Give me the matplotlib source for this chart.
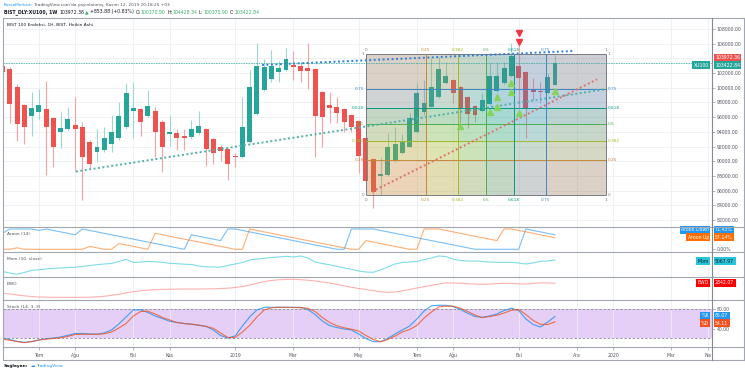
import matplotlib
matplotlib.use("Agg")
import matplotlib.pyplot as plt
import matplotlib.transforms as mtransforms
from matplotlib.lines import Line2D
from matplotlib.patches import Rectangle
import numpy as np

plt.rcParams["font.family"] = ["DejaVu Sans"]

# weekly Heikin Ashi candles, bar 0 = 2018-05-28 ... bar 76 = 2019-11-11
opens = np.array([
    103003, 102513, 100144, 97652, 96155, 96699, 97108, 95882, 93935, 94344,
    94929, 94657, 92655, 91212, 91525, 92342, 93119, 94616, 96876, 97067,
    96195, 96835, 95379, 93704, 93800, 93432, 93255, 93800, 94344, 92982,
    91975, 91621, 90668, 90532, 92574, 96427, 99694, 101233, 102104, 102417,
    103098, 102962, 102649, 102513, 99381, 97652, 97421, 97067, 96250, 95474,
    93119, 90259, 88026, 88122, 90069, 91158, 91975, 94017, 96740, 97421,
    98701, 100607, 101056, 100103, 98701, 97516, 96876, 97748, 99599, 100607,
    101601, 102962, 102186, 99694, 99463, 99245, 100370.90])
highs = np.array([
    103234, 102826, 100511, 97788, 99463, 99831, 100920, 96018, 96740, 97421,
    98782, 95379, 92887, 94344, 94698, 96291, 98102, 100688, 100743, 97244,
    99694, 97421, 95610, 96291, 94344, 94344, 95610, 96835, 94521, 93159,
    92206, 91798, 91117, 98701, 102417, 106053, 103874, 105140, 103643, 105372,
    105004, 103548, 106053, 102690, 99558, 99463, 98701, 97244, 96427, 95610,
    93295, 90436, 90532, 93800, 94698, 93704, 96522, 100607, 101056, 104010,
    104228, 103548, 101192, 100239, 98878, 97652, 99245, 103411, 103411, 103507,
    106053, 105821, 102281, 101287, 100824, 102050, 104428.34])
lows = np.array([
    101873, 95161, 92792, 92342, 93432, 95746, 88163, 89211, 91757, 94112,
    88666, 84677, 89034, 89933, 91253, 91253, 92887, 94385, 93200, 93432,
    96018, 90613, 88571, 92070, 91525, 91525, 93023, 93568, 89347, 89619,
    90069, 87441, 89252, 90436, 92479, 96291, 99558, 100824, 100824, 102281,
    101056, 100743, 99790, 90613, 91893, 95161, 95161, 94017, 94017, 88353,
    87237, 83588, 85399, 87986, 89892, 91049, 91866, 93908, 96291, 97312,
    98605, 100511, 97884, 94480, 94480, 95379, 96767, 97652, 99490, 100511,
    101464, 97203, 93119, 98333, 97884, 99150, 100370.90])
closes = np.array([
    102104, 97748, 95106, 94657, 97203, 97652, 94616, 91975, 94562, 95705,
    94385, 90613, 89619, 91975, 93119, 93976, 96114, 99245, 97244, 95338,
    97475, 93935, 91975, 93976, 93119, 93200, 94385, 94834, 91621, 91158,
    91389, 89579, 90572, 94616, 100144, 103003, 102867, 103003, 102649, 103915,
    102785, 102322, 102322, 96155, 95978, 97285, 96604, 95379, 94616, 90709,
    87346, 85848, 88258, 91975, 92302, 92655, 95923, 99327, 97884, 100144,
    102513, 101601, 99245, 97203, 96427, 96291, 98333, 101601, 101601, 102690,
    104324, 101287, 97067, 99381, 99381, 101424, 103422.84])

aroon_up = [0, 0, 7.14, 0, 0, 0, 0, 0, 0, 0, 0, 0, 14.29, 7.14, 0, 0, 28.57, 21.43,
            14.29, 7.14, 0, 78.57, 71.43, 64.29, 57.14, 50, 42.86, 35.71, 28.57, 21.43,
            14.29, 7.14, 0, 0, 100, 92.86, 85.71, 78.57, 71.43, 64.29, 57.14, 50, 42.86,
            35.71, 28.57, 21.43, 14.29, 7.14, 0, 0, 42.86, 35.71, 28.57, 21.43, 14.29,
            7.14, 0, 0, 100, 100, 100, 92.86, 85.71, 78.57, 71.43, 64.29, 57.14, 50,
            42.86, 100, 100, 92.86, 85.71, 78.57, 71.43, 64.29, 57.14]
aroon_down = [78.57, 100, 100, 100, 100, 92.86, 100, 92.86, 85.71, 78.57, 71.43,
              100, 92.86, 85.71, 78.57, 71.43, 64.29, 57.14, 50, 42.86, 35.71, 28.57,
              21.43, 14.29, 7.14, 0, 71.43, 64.29, 57.14, 50, 42.86, 100, 100, 92.86,
              85.71, 78.57, 71.43, 64.29, 57.14, 50, 42.86, 35.71, 28.57, 21.43, 14.29,
              7.14, 0, 0, 100, 100, 100, 100, 92.86, 85.71, 78.57, 71.43, 64.29, 57.14,
              50, 42.86, 35.71, 28.57, 21.43, 14.29, 7.14, 0, 0, 0, 0, 0, 0, 0, 100,
              92.86, 85.71, 78.57, 71.43]
mom = [-15069, -17695, -19971, -16820, -12967, -12092, -10691, -9465, -8940, -8064,
       -7539, -6314, -4563, -3162, -1936, -1061, 2442, 6294, 690, 1566,
       2442, 2091, 1041, -710, -1411, -2286, -2812, -5438, -6839, -7189,
       -7539, -4563, -1936, 690, 5068, 6819, 8045, 9446, 10321, 11547,
       10321, 12072, 8570, 1566, -1061, -3337, -5963, -8940, -11216, -14193,
       -15944, -16469, -12442, -7189, -1936, 690, 1566, 2442, 5944, 8570,
       12072, 11197, 6294, 4193, 3317, 3317, 2442, 1566, 1041, 1041,
       1041, -185, -1936, -185, 2792, 3317, 5067.97]
ewo = [-10454, -11528, -12871, -13946, -14886, -15557, -15826, -15960, -15960, -15960,
       -15960, -15960, -15826, -15423, -14617, -13274, -11931, -9917, -8439, -7231,
       -6290, -5753, -5350, -5082, -4947, -4813, -4813, -4813, -4679, -4545,
       -4142, -3739, -2799, -1590, 559, 2842, 5125, 6602, 7543, 8080,
       8214, 7677, 7005, 5931, 4588, 3245, 1499, -516, -2396, -4142,
       -5485, -7096, -8439, -9245, -8842, -7231, -5485, -3470, -1724, 156,
       1902, 3379, 3245, 2842, 2305, 1768, 1499, 1768, 2439, 2842,
       2708, 2170, 1902, 2573, 3514, 3245, 2842.07]
stoch_k = [20.6, 17.5, 13.8, 11.7, 13.4, 16.5, 19, 20.6, 22.7, 26.2,
           29.9, 29.9, 28.9, 28.5, 31, 37.2, 49.6, 64.1, 78.6, 79,
           73.4, 66.1, 61, 55.2, 52.7, 50.6, 49.2, 46.9, 44.8, 37.2,
           25.8, 20.6, 24.8, 45.4, 64.1, 78.6, 84.1, 84.1, 84.1, 84.1,
           84.1, 84.1, 79.6, 69.2, 55.8, 46.3, 42.3, 39.2, 37.2, 28.9,
           19.6, 13, 13, 19.6, 28.9, 37.2, 45.4, 59.9, 76.5, 87.2,
           88.3, 88.3, 85.8, 79.6, 71.7, 65.1, 63.4, 66.1, 70.3, 77.5,
           82.1, 77.5, 59.9, 48.5, 43.4, 53.7, 65.07]
stoch_d = [18.5, 15.8, 13.4, 10.9, 13, 16.5, 18.1, 19.6, 21, 24.1,
           27.9, 28.3, 28.3, 28.3, 29.3, 33, 41.3, 50.6, 66.1, 75.4,
           76.1, 70.3, 63, 57.9, 52.5, 50.6, 49, 47.5, 44.4, 40.7,
           31, 21.7, 21.7, 33, 46.5, 64.1, 78.6, 83.1, 84.1, 84.1,
           83.7, 83.1, 82.1, 75.4, 63, 52.7, 45.9, 41.7, 38.8, 35.1,
           25.8, 17.5, 13, 17.5, 24.8, 33, 38.2, 46.5, 62, 74.4,
           84.8, 86.4, 86.2, 82.1, 75.4, 68.2, 62.6, 65.1, 67.6, 72.3,
           77.9, 79.6, 69.2, 56.8, 49, 48.5, 54.11]

time_ticks = [5, 10, 18, 23, 32, 40, 49, 57, 62, 71, 79, 84, 92, 97]
time_labels = ["Tem", "Ağu", "Eki", "Kas", "2019", "Mar", "May", "Tem", "Ağu", "Eki",
               "Ara", "2020", "Mar", "Nis"]
# 104000 sits under the last-price tags, so it is not printed
price_ticks = [82000, 84000, 86000, 88000, 90000, 92000, 94000, 96000, 98000,
               100000, 102000, 106000, 108000]
price_grid = list(range(82000, 108001, 2000))

# drawings on the chart
fib_bars = (50, 83)
fib_prices = (85399, 104596)
fib_levels = [0, 0.25, 0.382, 0.5, 0.618, 0.75, 1]
fib_labels = ["0", "0.25", "0.382", "0.5", "0.618", "0.75", "1"]
fib_colors = ["#787b86", "#c8893a", "#a2b82a", "#4caf50", "#089981", "#3d85c6", "#787b86"]
trend_lines = [
    ((10.1, 88598), (82.9, 99790), "#4fb0a8"),
    ((35.7, 103098), (78.5, 105004), "#2f7fe0"),
    ((50.8, 85848), (81.8, 101151), "#e07070"),
]
buy_marks = [(63, 94793), (67, 96740), (68, 97421), (68, 98701), (70, 99381),
             (70, 100607), (71, 96631), (76, 99558)]
sell_marks = [(71, 106189), (71, 107496)]

W, H = 745, 375
GRID = "#edf0f4"
SEP = "#a3a6ae"
TXT = "#50535e"
fig = plt.figure(figsize=(W / 100, H / 100), dpi=100)
fig.patch.set_facecolor("white")


def px_axes(x0, y0, x1, y1):
    return fig.add_axes([x0 / W, 1 - y1 / H, (x1 - x0) / W, (y1 - y0) / H])


LEFT, RIGHT = 3, 712
ax = px_axes(LEFT, 18, RIGHT, 226.7)
ax_ar = px_axes(LEFT, 226.7, RIGHT, 252.3)
ax_mom = px_axes(LEFT, 252.3, RIGHT, 277.3)
ax_ewo = px_axes(LEFT, 277.3, RIGHT, 300)
ax_st = px_axes(LEFT, 300, RIGHT, 347)

for a in (ax, ax_ar, ax_mom, ax_ewo, ax_st):
    a.set_xlim(0.07, 97.6)
    for s in a.spines.values():
        s.set_visible(False)
    a.set_axisbelow(True)
    a.set_xticks(time_ticks)
    a.tick_params(axis="x", length=0, labelbottom=False)
    a.grid(axis="x", color=GRID, lw=0.6)
    a.yaxis.tick_right()
    a.tick_params(axis="y", length=2, width=0.5, colors="#9598a1", labelcolor=TXT,
                  labelsize=3.3, pad=1.5)

# candles
bars = np.arange(len(closes))
up = closes >= opens
body_col = np.where(up, "#26a69a", "#ef5350")
wick_col = np.where(up, "#9fd7d0", "#f5a3a2")
ax.vlines(bars, lows, highs, colors=wick_col, lw=0.8, zorder=2)
body_lo = np.minimum(opens, closes)
body_h = np.maximum(np.abs(closes - opens), 150)
ax.bar(bars, body_h, bottom=body_lo, width=0.68, color=body_col, lw=0, zorder=3)

ax.set_ylim(81083, 109497)
ax.set_yticks(price_ticks)
ax.set_yticklabels([f"{v:.2f}" for v in price_ticks])
ax.hlines(price_grid, 0.07, 97.6, color=GRID, lw=0.6, zorder=0.5)

# fib grid
x0, x1 = fib_bars
p0, p1 = fib_prices
for i in range(len(fib_levels) - 1):
    r0, r1 = fib_levels[i], fib_levels[i + 1]
    c = fib_colors[i + 1]
    ax.add_patch(Rectangle((x0, p0 + r0 * (p1 - p0)), x1 - x0, (r1 - r0) * (p1 - p0),
                           fc=c, alpha=0.2, ec="none", zorder=4))
    ax.add_patch(Rectangle((x0 + r0 * (x1 - x0), p0), (r1 - r0) * (x1 - x0), p1 - p0,
                           fc=c, alpha=0.2, ec="none", zorder=4))
for r, lab, c in zip(fib_levels, fib_labels, fib_colors):
    yp = p0 + r * (p1 - p0)
    xb = x0 + r * (x1 - x0)
    ax.hlines(yp, x0, x1, color=c, lw=0.7, zorder=5)
    ax.vlines(xb, p0, p1, color=c, lw=0.7, zorder=5)
    kw = dict(fontsize=3.1, color=c, zorder=7, textcoords="offset pixels")
    ax.annotate(lab, (x0, yp), xytext=(-2, 0), ha="right", va="center", **kw)
    ax.annotate(lab, (x1, yp), xytext=(2, 0), ha="left", va="center", **kw)
    ax.annotate(lab, (xb, p1), xytext=(0, 4), ha="center", va="center", **kw)
    ax.annotate(lab, (xb, p0), xytext=(0, -5), ha="center", va="center", **kw)

for (ta, pa), (tb, pb), c in trend_lines:
    ax.plot([ta, tb], [pa, pb], color=c, lw=1.4, ls=(0, (1.0, 1.3)), zorder=6)

ax.axhline(closes[-1], color="#26a69a", lw=0.6, ls=(0, (2, 1)), alpha=0.8, zorder=6)

ax.plot([b for b, _ in buy_marks], [p for _, p in buy_marks], ls="none", marker="^",
        ms=4.2, color="#86d35c", zorder=8)
ax.plot([b for b, _ in sell_marks], [p for _, p in sell_marks], ls="none", marker="v",
        ms=4.2, color="#f23645", zorder=8)

ax.text(4 / 709, 1 - 7 / 208.7, "BIST 100 Endeksi, 1H, BIST, Heikin Ashi",
        transform=ax.transAxes, fontsize=3.2, color="#131722", va="center")

# Aroon
ax_ar.plot(bars, aroon_down, color="#2196f3", lw=0.8, alpha=0.6)
ax_ar.plot(bars, aroon_up, color="#ff6d00", lw=0.8, alpha=0.55)
ax_ar.set_ylim(-14.8, 111.3)
ax_ar.set_yticks([0])
ax_ar.set_yticklabels(["0.00%"])

# Momentum
ax_mom.plot(bars, mom, color="#26c6da", lw=0.8, alpha=0.6)
ax_mom.set_ylim(-25224, 18551)
ax_mom.set_yticks([])

# EWO
ax_ewo.plot(bars, ewo, color="#ff5252", lw=0.8, alpha=0.45)
ax_ewo.set_ylim(-19586, 10900)
ax_ewo.set_yticks([])

# Stochastic
ax_st.axhspan(20, 80, color="#e6cff7", zorder=0.2, lw=0)
for lvl in (80, 20):
    ax_st.axhline(lvl, color="#8a8d96", lw=0.6, ls=(0, (3, 2)), zorder=0.6)
ax_st.plot(bars, stoch_k, color="#2196f3", lw=0.8, alpha=0.85)
ax_st.plot(bars, stoch_d, color="#f4511e", lw=0.8, alpha=0.8)
ax_st.set_ylim(2.0, 99.2)
ax_st.set_yticks([80, 40])
ax_st.set_yticklabels(["80.00", "40.00"])
ax_st.set_xticklabels(time_labels)
ax_st.tick_params(axis="x", length=2, width=0.5, color="#9598a1", labelbottom=True,
                  labelsize=3.3, labelcolor=TXT, pad=2)

pane_titles = [(ax_ar, "Aroon (14)"), (ax_mom, "Mom (10, close)"), (ax_ewo, "EWO"),
               (ax_st, "Stoch (14, 3, 3)")]
for a, t in pane_titles:
    a.annotate(t, (0, 1), xycoords="axes fraction", xytext=(4, -7),
               textcoords="offset pixels", fontsize=3.2, color=TXT, va="center")


def tag(a, value, text, color, dy=0.0, name=None, tcolor="white"):
    trans = mtransforms.blended_transform_factory(a.transAxes, a.transData)
    kw = dict(xycoords=trans, textcoords="offset pixels", va="center", fontsize=3.3,
              color=tcolor, annotation_clip=False, zorder=20,
              bbox=dict(boxstyle="square,pad=0.3", fc=color, ec="none"))
    a.annotate(text, (1, value), xytext=(3, dy), ha="left", **kw)
    if name:
        a.annotate(name, (1, value), xytext=(-3, dy), ha="right", **kw)


tag(ax, 103972.36, "103972.36", "#ef5350", dy=1)
tag(ax, 103422.84, "103422.84", "#26a69a", dy=-2.5, name="XU100")
tag(ax_ar, aroon_down[-1], "71.43%", "#2196f3", dy=5, name="Aroon Down")
tag(ax_ar, aroon_up[-1], "57.14%", "#ff6d00", dy=0.5, name="Aroon Up")
tag(ax_mom, mom[-1], "5067.97", "#26c6da", dy=-1, name="Mom", tcolor="#131722")
tag(ax_ewo, ewo[-1], "2842.07", "#ff0000", dy=0.5, name="EWO")
tag(ax_st, stoch_k[-1], "65.07", "#2196f3", dy=1, name="%K")
tag(ax_st, stoch_d[-1], "54.11", "#f4511e", dy=-1.5, name="%D")


# frame and pane separators
def fline(xs, ys, color=SEP, lw=0.8):
    fig.add_artist(Line2D([x / W for x in xs], [1 - y / H for y in ys], color=color, lw=lw))


for yy in (18, 226.7, 252.3, 277.3, 300, 347, 360):
    fline((3, 744), (yy, yy))
fline((3, 3), (18, 360))
fline((744, 744), (18, 360))
fline((712, 712), (18, 360), color="#868993")


# header and footer
def text_run(x, y, parts, size):
    r = fig.canvas.get_renderer()
    for s, color, weight, gap in parts:
        t = fig.text(x / W, 1 - y / H, s, fontsize=size, color=color, fontweight=weight,
                     ha="left", va="center")
        x += t.get_window_extent(r).width + gap


DARK = "#131722"
GREEN = "#3fae6a"
text_run(4, 5, [("BorsaMerkezi", "#2196f3", "normal", 1.3),
                ("TradingView.com'da yayınlanmış, Kasım 12, 2019 20:18:25 +03", TXT, "normal", 0)],
         3.1)
text_run(4, 12, [("BIST_DLY:XU100, 1W", DARK, "bold", 1.6),
                 ("103972.36", DARK, "normal", 1.4),
                 ("▲", GREEN, "normal", 1.2),
                 ("+853.88 (+0.83%)", DARK, "normal", 1.6),
                 ("O:", DARK, "normal", 0.3), ("100370.90", GREEN, "normal", 1.6),
                 ("H:", DARK, "normal", 0.3), ("104428.34", GREEN, "normal", 1.6),
                 ("L:", DARK, "normal", 0.3), ("100370.90", GREEN, "normal", 1.6),
                 ("C:", DARK, "normal", 0.3), ("103422.84", GREEN, "normal", 0)],
         3.3)
text_run(4, 366, [("Sağlayan:", DARK, "bold", 2),
                  ("☁", "#2196f3", "normal", 1),
                  ("TradingView", "#2196f3", "normal", 0)], 3.2)

fig.savefig("out.png", dpi=100)
